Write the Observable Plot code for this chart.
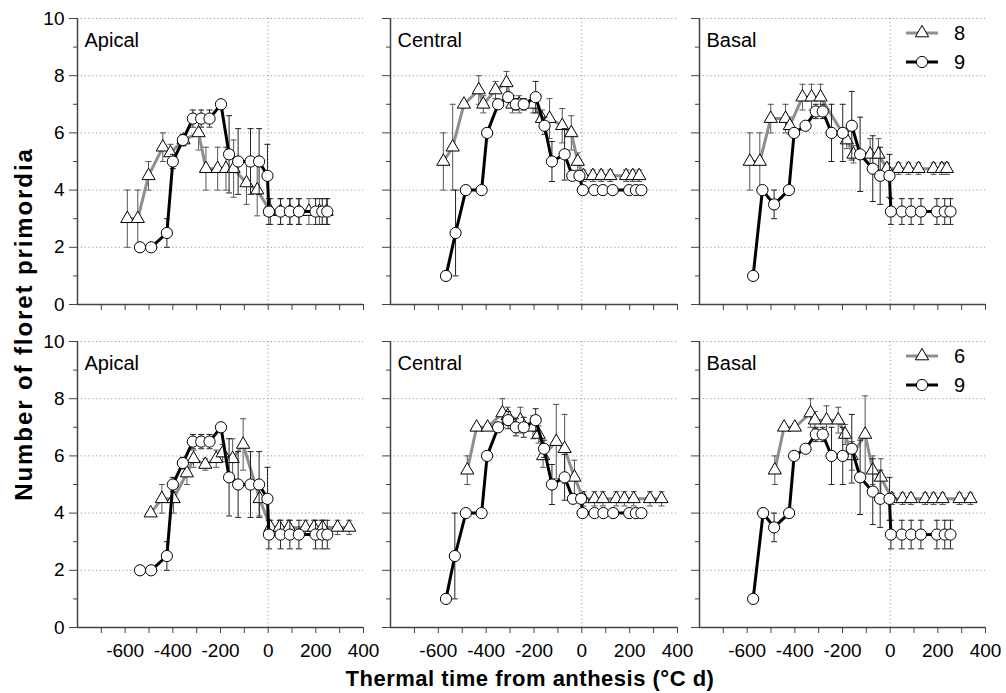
<!DOCTYPE html>
<html><head><meta charset="utf-8">
<script src="https://cdn.jsdelivr.net/npm/d3@7"></script>
<script src="https://cdn.jsdelivr.net/npm/@observablehq/plot@0.6"></script>
<style>
body{margin:0;background:#fff;font-family:"Liberation Sans",Arial,sans-serif;}
#fig{position:relative;width:1006px;height:693px;overflow:hidden;background:#fff;}
.p{position:absolute;}
.ylab{position:absolute;left:24px;top:324px;transform:translate(-50%,-50%) rotate(-90deg);font-weight:bold;font-size:24px;letter-spacing:1.9px;white-space:nowrap;color:#000;}
.xlab{position:absolute;left:530px;top:679px;transform:translate(-50%,-50%);font-weight:bold;font-size:22px;letter-spacing:0.5px;white-space:nowrap;color:#000;}
</style></head><body><div id="fig"></div>
<script>
// ---- Data: [thermal time, floret primordia, error] ----
const apicalTop8 = [[-591,3.0,1.0],[-547,3.0,1.0],[-502,4.5,0.5],[-442,5.5,0.5],[-410,5.3,0.3],[-355,5.75,0.2],[-292,6.0,0.6],[-261,4.75,0.75],[-212,4.75,0.75],[-177,4.75,0.75],[-145,4.75,1.0],[-91,4.25,0.75],[-46,4.0,0.9],[10,3.25,0.45],[52,3.25,0.45],[91,3.25,0.45],[129,3.25,0.45],[171,3.25,0.45],[215,3.25,0.45],[245,3.25,0.45]];
const apicalTop9 = [[-538,2.0,0],[-491,2.0,0],[-425,2.5,0.5],[-400,5.0,0.25],[-358,5.75,0.2],[-316,6.5,0.3],[-281,6.5,0.3],[-246,6.5,0.3],[-198,7.0,0],[-164,5.25,1.35],[-126,5.0,1.15],[-74,5.0,1.15],[-38,5.0,1.15],[-3,4.5,1.1],[3,3.25,0.45],[52,3.25,0.45],[91,3.25,0.45],[129,3.25,0.45],[199,3.25,0.45],[227,3.25,0.45],[248,3.25,0.45]];
const centralTop8 = [[-579,5.0,1.0],[-540,5.5,1.5],[-493,7.0,0],[-431,7.5,0.5],[-412,7.0,0.3],[-361,7.5,0.3],[-315,7.75,0.4],[-290,7.0,0.3],[-262,7.0,0.3],[-204,7.0,0.3],[-167,6.5,0.3],[-135,6.5,0.7],[-82,6.25,0.6],[-44,6.0,0.6],[-17,5.0,0.3],[7,4.5,0.2],[46,4.5,0.2],[81,4.5,0.2],[119,4.5,0.2],[185,4.5,0.2],[213,4.5,0.2],[240,4.5,0.2]];
const centralTop9 = [[-568,1.0,0],[-528,2.5,1.5],[-485,4.0,0],[-419,4.0,0],[-396,6.0,0],[-350,7.0,0],[-308,7.25,0],[-276,7.0,0.2],[-243,7.0,0.2],[-193,7.25,0.55],[-156,6.25,0.3],[-125,5.0,0.7],[-72,5.25,0.9],[-40,4.5,0],[-10,4.5,0],[4,4.0,0],[52,4.0,0],[88,4.0,0],[129,4.0,0],[198,4.0,0],[226,4.0,0],[249,4.0,0]];
const basalTop8 = [[-589,5.0,1.0],[-547,5.0,1.0],[-501,6.5,0.5],[-439,6.5,0.5],[-421,6.25,0.3],[-368,7.25,0.45],[-330,7.25,0.45],[-292,7.25,0.45],[-182,5.75,0.3],[-154,5.25,0.3],[-84,5.25,0.55],[-49,5.25,0.55],[-14,4.75,0.2],[35,4.75,0.2],[77,4.75,0.2],[119,4.75,0.2],[182,4.75,0.2],[217,4.75,0.2],[238,4.75,0.2]];
const basalTop9 = [[-575,1.0,0],[-536,4.0,0],[-487,3.5,0.5],[-425,4.0,0],[-403,6.0,0],[-355,6.25,0],[-312,6.75,0.25],[-283,6.75,0.25],[-246,6.0,1.0],[-199,6.0,1.0],[-161,6.25,1.2],[-126,5.25,1.3],[-73,4.75,1.15],[-42,4.5,1.0],[-3,4.5,0.75],[3,3.25,0.45],[49,3.25,0.45],[88,3.25,0.45],[129,3.25,0.45],[196,3.25,0.45],[229,3.25,0.45],[253,3.25,0.45]];
const apicalBot6 = [[-493,4.0,0],[-446,4.5,0.5],[-397,4.5,0.5],[-341,5.4,0.4],[-313,5.9,0.3],[-264,5.7,0.2],[-218,5.9,0.3],[-191,6.1,0.3],[-149,5.9,0.7],[-105,6.4,0.9],[-36,4.5,0.6],[10,3.5,0.25],[48,3.5,0.25],[87,3.5,0.25],[157,3.5,0.25],[192,3.5,0.25],[228,3.5,0.25],[291,3.5,0.25],[340,3.5,0.25]];
const apicalBot9 = [[-538,2.0,0],[-491,2.0,0],[-425,2.5,0.5],[-400,5.0,0.25],[-358,5.75,0.2],[-316,6.5,0.25],[-281,6.5,0.25],[-246,6.5,0.25],[-198,7.0,0],[-164,5.25,1.35],[-126,5.0,1.15],[-74,5.0,1.15],[-38,5.0,1.15],[-3,4.5,1.1],[3,3.25,0.5],[52,3.25,0.5],[91,3.25,0.5],[129,3.25,0.5],[199,3.25,0.5],[227,3.25,0.5],[248,3.25,0.5]];
const centralBot6 = [[-479,5.5,0.5],[-440,7.0,0],[-394,7.0,0],[-332,7.5,0.5],[-310,7.4,0.3],[-257,7.25,0.45],[-204,7.0,0.4],[-181,6.75,0.3],[-162,6.0,0.4],[-107,6.5,1.3],[-72,6.25,1.2],[-31,5.25,0.6],[7,4.5,0.25],[53,4.5,0.25],[88,4.5,0.25],[144,4.5,0.25],[178,4.5,0.25],[217,4.5,0.25],[285,4.5,0.25],[333,4.5,0.25]];
const centralBot9 = [[-568,1.0,0],[-531,2.5,1.5],[-485,4.0,0],[-419,4.0,0],[-396,6.0,0],[-350,7.0,0],[-308,7.25,0.3],[-276,7.0,0.3],[-243,7.0,0.35],[-193,7.25,0.4],[-158,6.25,0.3],[-125,5.0,0.7],[-72,5.25,0.8],[-37,4.5,0],[-3,4.5,0],[3,4.0,0],[53,4.0,0],[90,4.0,0],[131,4.0,0],[198,4.0,0],[226,4.0,0],[249,4.0,0]];
const basalBot6 = [[-484,5.5,0.5],[-445,7.0,0],[-400,7.0,0],[-334,7.5,0.5],[-316,7.25,0.3],[-267,7.25,0.5],[-218,7.25,0.45],[-189,6.75,0.35],[-161,6.0,0.5],[-105,6.75,1.35],[-73,5.5,0.5],[-39,5.25,0.65],[7,4.5,0.2],[52,4.5,0.2],[87,4.5,0.2],[147,4.5,0.2],[182,4.5,0.2],[220,4.5,0.2],[291,4.5,0.2],[337,4.5,0.2]];
const basalBot9 = [[-575,1.0,0],[-533,4.0,0],[-487,3.5,0.5],[-424,4.0,0],[-403,6.0,0],[-355,6.25,0],[-312,6.75,0.25],[-283,6.75,0.25],[-246,6.0,1.0],[-199,6.0,1.0],[-161,6.25,1.2],[-126,5.25,1.3],[-73,4.75,1.15],[-42,4.5,1.0],[-3,4.5,0.75],[3,3.25,0.5],[49,3.25,0.5],[88,3.25,0.5],[129,3.25,0.5],[196,3.25,0.5],[229,3.25,0.5],[253,3.25,0.5]];

const panelLabels = ["Apical", "Central", "Basal"];
const legendTop = ["8", "9"];
const legendBottom = ["6", "9"];
const xDomain = [-800, 400];
const yDomain = [0, 10];
const xTicks = d3.range(-700, 401, 100);
const xLabelTicks = [-600, -400, -200, 0, 200, 400];
const yMajor = [0, 2, 4, 6, 8, 10];
const yMinor = [1, 3, 5, 7, 9];
const yGrid = [2, 4, 6, 8, 10];

// ---- layout ----
const cols = [{left: 0, width: 375, ml: 77, mr: 12}, {left: 375, width: 312, ml: 15, mr: 10}, {left: 687, width: 319, ml: 12, mr: 21}];
const rowsG = [{top: 0, height: 322, mt: 18, mb: 18}, {top: 322, height: 371, mt: 19, mb: 66}];

const hline = {draw(ctx, size) { const w = Math.sqrt(size / Math.PI); ctx.moveTo(-w, 0); ctx.lineTo(w, 0); }};
const toRows = arr => arr.map(([x, y, e]) => ({x, y, e, lo: y - e, hi: y + e}));

function seriesMarks(arr, kind) {
  const d = toRows(arr), de = d.filter(r => r.e > 0);
  const gray = kind === "tri";
  const ec = gray ? "#555" : "#222";
  return [
    Plot.ruleX(de, {x: "x", y1: "lo", y2: "hi", stroke: ec, strokeWidth: 1}),
    Plot.dot(de, {x: "x", y: "hi", symbol: hline, r: 3, stroke: ec, strokeWidth: 1}),
    Plot.dot(de, {x: "x", y: "lo", symbol: hline, r: 3, stroke: ec, strokeWidth: 1}),
    Plot.line(d, {x: "x", y: "y", stroke: gray ? "#8e8e8e" : "#000", strokeWidth: 3}),
    Plot.dot(d, {x: "x", y: "y", symbol: gray ? "triangle" : "circle", r: gray ? 4.9 : 5.6, fill: "white", stroke: "#000", strokeWidth: 1})
  ];
}

function panel(row, col, s1, s2) {
  const c = cols[col], r = rowsG[row];
  const p = Plot.plot({
    width: c.width, height: r.height,
    marginLeft: c.ml, marginRight: c.mr, marginTop: r.mt, marginBottom: r.mb,
    x: {domain: xDomain, label: null},
    y: {domain: yDomain, label: null},
    style: {background: "transparent", color: "#000", fontFamily: "Liberation Sans, Arial, sans-serif", overflow: "visible"},
    marks: [
      Plot.gridY({ticks: yGrid, stroke: "#9a9a9a", strokeOpacity: 1, strokeWidth: 1, strokeDasharray: "1.2,2.6"}),
      Plot.gridX({ticks: [0], stroke: "#9a9a9a", strokeOpacity: 1, strokeWidth: 1, strokeDasharray: "1.2,2.6"}),
      Plot.axisY({ticks: yMajor, tickSize: 8, tickPadding: 5, stroke: "#444", fontSize: 19, label: null,
        tickFormat: col === 0 ? (d => String(d)) : (() => "")}),
      Plot.axisY({ticks: yMinor, tickSize: 4, stroke: "#444", label: null, tickFormat: () => ""}),
      Plot.axisX({ticks: xTicks, tickSize: 6, tickPadding: 10, stroke: "#444", fontSize: 19, label: null,
        tickFormat: row === 1 ? (d => xLabelTicks.includes(d) ? String(d) : "") : (() => "")}),
      Plot.ruleX([xDomain[0]], {stroke: "#444", strokeWidth: 1.5}),
      Plot.ruleY([yDomain[0]], {stroke: "#444", strokeWidth: 1.5}),
      ...seriesMarks(s1, "tri"),
      ...seriesMarks(s2, "circ"),
      Plot.text([panelLabels[col]], {frameAnchor: "top-left", dx: 7, dy: 14, lineAnchor: "top", textAnchor: "start", fontSize: 20, fill: "#000"})
    ]
  });
  p.classList.add("p");
  p.style.left = c.left + "px";
  p.style.top = r.top + "px";
  p.style.position = "absolute";
  return p;
}

const fig = document.getElementById("fig");
const series = [[apicalTop8, apicalTop9], [centralTop8, centralTop9], [basalTop8, basalTop9], [apicalBot6, apicalBot9], [centralBot6, centralBot9], [basalBot6, basalBot9]];
series.forEach((s, i) => fig.appendChild(panel(Math.floor(i / 3), i % 3, s[0], s[1])));

// legends
function legend(top, labels) {
  const ns = "http://www.w3.org/2000/svg";
  const svg = document.createElementNS(ns, "svg");
  svg.setAttribute("width", 100); svg.setAttribute("height", 60);
  svg.style.position = "absolute"; svg.style.left = "900px"; svg.style.top = top + "px";
  const rowsY = [15, 44];
  const sym = d3.select(svg);
  labels.forEach((lab, i) => {
    const y = rowsY[i];
    const gray = i === 0;
    sym.append("line").attr("x1", 6).attr("x2", 38).attr("y1", y).attr("y2", y)
      .attr("stroke", gray ? "#8e8e8e" : "#000").attr("stroke-width", 3);
    if (gray) {
      sym.append("path").attr("d", d3.symbol(d3.symbolTriangle, 4.9 * 4.9 * Math.PI)())
        .attr("transform", `translate(22,${y})`).attr("fill", "white").attr("stroke", "#000");
    } else {
      sym.append("circle").attr("cx", 22).attr("cy", y).attr("r", 5.6).attr("fill", "white").attr("stroke", "#000");
    }
    sym.append("text").attr("x", 54).attr("y", y).attr("dy", "0.36em").attr("font-size", 20)
      .attr("font-family", "Liberation Sans, Arial, sans-serif").text(lab);
  });
  fig.appendChild(svg);
}
legend(18, legendTop);
legend(341, legendBottom);

const yl = document.createElement("div"); yl.className = "ylab"; yl.textContent = "Number of floret primordia"; fig.appendChild(yl);
const xl = document.createElement("div"); xl.className = "xlab"; xl.textContent = "Thermal time from anthesis (°C d)"; fig.appendChild(xl);
</script></body></html>
